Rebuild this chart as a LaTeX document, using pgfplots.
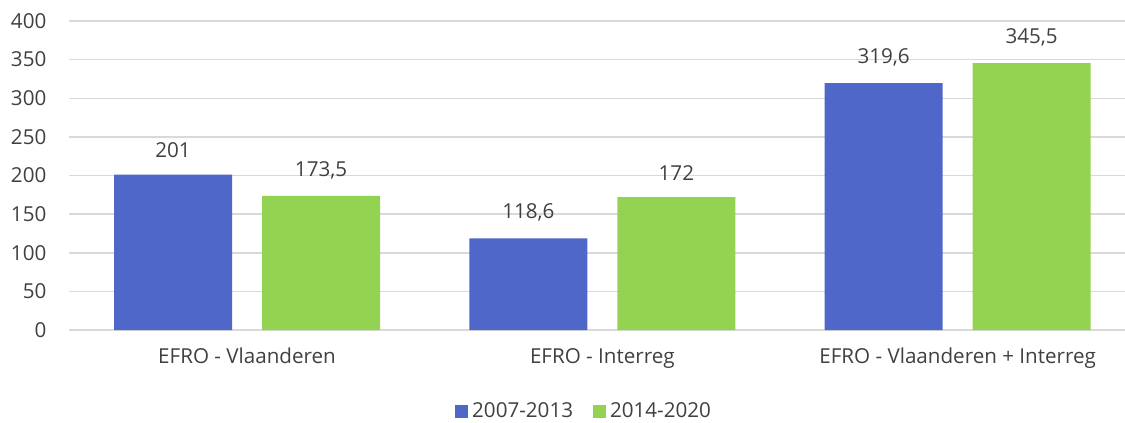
\documentclass[border=0pt]{standalone}
\usepackage{fontspec}
\setmainfont{Open Sans}
\usepackage{pgfplots}
\pgfplotsset{compat=1.18}
\definecolor{cblue}{HTML}{4E67C8}
\definecolor{cgreen}{HTML}{94D251}
\definecolor{cgrid}{HTML}{D9D9D9}
\definecolor{ctext}{HTML}{404040}
\newcommand{\cf}{\fontsize{10.3}{12}\selectfont}
\begin{document}
\begin{tikzpicture}[x=1pt,y=1pt]
\path[use as bounding box] (-34.7,-46.5) rectangle (527.8,165);
\begin{axis}[at={(0,0)}, anchor=south west, scale only axis,
  width=527.8pt, height=154.5pt,
  xmin=-0.5, xmax=2.471, ymin=0, ymax=400,
  ytick={0,50,...,400}, xtick={0,1,2},
  xticklabels={EFRO - Vlaanderen, EFRO - Interreg, EFRO - Vlaanderen + Interreg},
  ymajorgrids, grid style={cgrid, line width=0.75pt},
  axis line style={draw=none}, major tick length=0pt,
  font=\cf,
  tick label style={text=ctext, font=\cf},
  yticklabel style={xshift=-8pt},
  xticklabel style={yshift=-5.5pt},
  ybar, bar width=59pt,
  nodes near coords,
  every node near coord/.append style={text=ctext, yshift=5pt, font=\cf},
  legend style={at={(0.4885,-0.265)}, anchor=center, draw=none, legend columns=2,
    font=\cf, text=ctext,
    /tikz/every even column/.append style={column sep=8pt}},
  legend image code/.code={\fill[#1] (0pt,-3.25pt) rectangle (6.5pt,3.25pt);},
  clip=false,
  /pgf/number format/.cd, use comma, 1000 sep={}, assume math mode=true
]
\addplot[fill=cblue, draw=none, bar shift=-37pt] coordinates {(0,201) (1,118.6) (2,319.6)};
\addplot[fill=cgreen, draw=none, bar shift=37pt] coordinates {(0,173.5) (1,172) (2,345.5)};
\legend{2007-2013, 2014-2020}
\end{axis}
\end{tikzpicture}
\end{document}
